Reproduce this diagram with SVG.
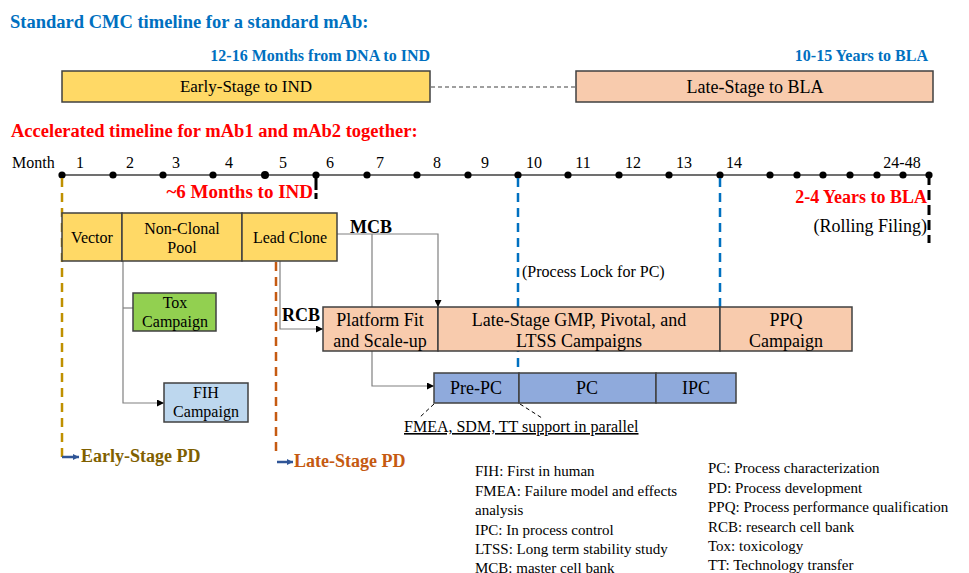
<svg xmlns="http://www.w3.org/2000/svg" width="969" height="573" viewBox="0 0 969 573" font-family="'Liberation Serif', 'DejaVu Serif', serif">
<defs>
<style>
text{font-family:'Liberation Serif','DejaVu Serif',serif;fill:#000}
.b{font-weight:bold}
.blue{fill:#0070C0}
.red{fill:#FF0000}
.box{stroke:#404040;stroke-width:1.5}
.y{fill:#FFD966}
.o{fill:#F8CBAD}
.p{fill:#8FAADC}
.c{fill:none;stroke:#808080;stroke-width:1.2}
.mid{text-anchor:middle}
.end{text-anchor:end}
.dot{fill:#000}
</style>
<marker id="ah" viewBox="0 0 10 10" refX="10" refY="5" markerWidth="7" markerHeight="7" markerUnits="userSpaceOnUse" orient="auto"><path d="M0,0L10,5L0,10z" fill="#000"/></marker>
<marker id="ba" viewBox="0 0 10 10" refX="10" refY="5" markerWidth="6" markerHeight="6" markerUnits="userSpaceOnUse" orient="auto"><path d="M0,0L10,5L0,10z" fill="#2F5597"/></marker>
</defs>
<rect width="969" height="573" fill="#fff"/>

<!-- Standard timeline -->
<text x="10" y="28" class="b blue" font-size="18.5">Standard CMC timeline for a standard mAb:</text>
<text x="430" y="61" class="b blue end" font-size="16">12-16 Months from DNA to IND</text>
<text x="928" y="61" class="b blue end" font-size="16">10-15 Years to BLA</text>
<g id="early-ind"><rect x="62" y="71" width="368" height="31" class="box y"/><text x="246" y="92" class="mid" font-size="17">Early-Stage to IND</text></g>
<g id="late-bla"><rect x="576" y="71" width="357" height="31" class="box o"/><text x="755" y="93" class="mid" font-size="18">Late-Stage to BLA</text></g>
<line x1="431" y1="87" x2="575" y2="87" stroke="#404040" stroke-width="1.2" stroke-dasharray="4,3"/>

<!-- Accelerated -->
<text x="11" y="137" class="b red" font-size="18.5">Accelerated timeline for mAb1 and mAb2 together:</text>
<g id="timeline">
<line x1="62" y1="175" x2="930" y2="175" stroke="#404040" stroke-width="1.3"/>
<g class="dot">
<circle cx="62" cy="175" r="3.6"/><circle cx="113" cy="175" r="3.6"/><circle cx="163" cy="175" r="3.6"/><circle cx="213" cy="175" r="3.6"/><circle cx="265" cy="175" r="4"/><circle cx="316" cy="175" r="3.6"/><circle cx="367" cy="175" r="3.6"/><circle cx="417" cy="175" r="3.6"/><circle cx="468" cy="175" r="3.6"/><circle cx="518" cy="175" r="3.6"/><circle cx="568" cy="175" r="3.6"/><circle cx="619" cy="175" r="3.6"/><circle cx="669" cy="175" r="3.6"/><circle cx="720" cy="175" r="3.6"/><circle cx="770" cy="175" r="3.6"/><circle cx="797" cy="175" r="3.6"/><circle cx="823" cy="175" r="3.6"/><circle cx="850" cy="175" r="3.6"/><circle cx="877" cy="175" r="3.6"/><circle cx="903" cy="175" r="3.6"/><circle cx="929" cy="175" r="3.6"/>
</g>
<text x="12" y="168" font-size="16">Month</text>
<g class="mid" font-size="16">
<text x="80" y="168">1</text><text x="130" y="168">2</text><text x="176" y="168">3</text><text x="229" y="168">4</text><text x="283" y="168">5</text><text x="330" y="168">6</text><text x="380" y="168">7</text><text x="437" y="168">8</text><text x="485" y="168">9</text><text x="534" y="168">10</text><text x="583" y="168">11</text><text x="633" y="168">12</text><text x="684" y="168">13</text><text x="734" y="168">14</text><text x="902" y="168">24-48</text>
</g>
<line x1="316" y1="175" x2="316" y2="199" stroke="#000" stroke-width="3" stroke-dasharray="15,3,6,3"/>
<line x1="929" y1="175" x2="929" y2="243" stroke="#000" stroke-width="3" stroke-dasharray="10,5"/>
</g>
<text x="313" y="198" class="b red end" font-size="19">~6 Months to IND</text>
<text x="927" y="203" class="b red end" font-size="18">2-4 Years to BLA</text>
<text x="927" y="232" class="end" font-size="18">(Rolling Filing)</text>

<!-- phase lines -->
<line x1="62" y1="178" x2="62" y2="462" stroke="#BF9000" stroke-width="2.5" stroke-dasharray="9,6"/>
<line x1="276" y1="262" x2="276" y2="452" stroke="#C55A11" stroke-width="2.5" stroke-dasharray="9,6"/>
<line x1="518" y1="178" x2="518" y2="372" stroke="#0070C0" stroke-width="2.5" stroke-dasharray="9,6"/>
<line x1="720" y1="178" x2="720" y2="310" stroke="#0070C0" stroke-width="2.5" stroke-dasharray="9,6"/>
<text x="522" y="277" font-size="16">(Process Lock for PC)</text>

<!-- connectors -->
<g id="connectors">
<path d="M123,261V403H164" class="c" marker-end="url(#ah)"/>
<path d="M123,308H133" class="c"/>
<path d="M280,261V329H323" class="c" marker-end="url(#ah)"/>
<path d="M337,234H438V307" class="c" marker-end="url(#ah)"/>
<path d="M372,234V386H434" class="c" marker-end="url(#ah)"/>
<path d="M434,404L419,418" fill="none" stroke="#000" stroke-width="1" stroke-dasharray="4,3"/>
<path d="M520,404L542,418" fill="none" stroke="#000" stroke-width="1" stroke-dasharray="4,3"/>
<path d="M62,457H79" stroke="#2F5597" stroke-width="2.5" marker-end="url(#ba)"/>
<path d="M277,462H293" stroke="#2F5597" stroke-width="2.5" marker-end="url(#ba)"/>
</g>

<!-- early-stage row -->
<g id="vector"><rect x="62" y="213" width="60" height="48" class="box y"/><text x="92" y="243" class="mid" font-size="16">Vector</text></g>
<g id="non-clonal"><rect x="122" y="213" width="120" height="48" class="box y"/><text x="182" y="234" class="mid" font-size="16">Non-Clonal</text><text x="182" y="253" class="mid" font-size="16">Pool</text></g>
<g id="lead-clone"><rect x="242" y="213" width="95" height="48" class="box y"/><text x="290" y="243" class="mid" font-size="16">Lead Clone</text></g>
<text x="350" y="233" class="b" font-size="18">MCB</text>
<text x="282" y="321" class="b" font-size="18">RCB</text>

<g id="tox"><rect x="133" y="293" width="83" height="38" class="box" fill="#92D050"/><text x="175" y="308" class="mid" font-size="16">Tox</text><text x="175" y="327" class="mid" font-size="16">Campaign</text></g>
<g id="fih"><rect x="164" y="383" width="84" height="39" class="box" fill="#BDD7EE"/><text x="206" y="398" class="mid" font-size="16">FIH</text><text x="206" y="417" class="mid" font-size="16">Campaign</text></g>

<g id="platform"><rect x="323" y="307" width="115" height="44" class="box o"/><text x="380" y="326" class="mid" font-size="18">Platform Fit</text><text x="380" y="347" class="mid" font-size="18">and Scale-up</text></g>
<g id="late-gmp"><rect x="438" y="307" width="282" height="44" class="box o"/><text x="579" y="326" class="mid" font-size="18">Late-Stage GMP, Pivotal, and</text><text x="579" y="347" class="mid" font-size="18">LTSS Campaigns</text></g>
<g id="ppq"><rect x="720" y="307" width="132" height="44" class="box o"/><text x="786" y="326" class="mid" font-size="18">PPQ</text><text x="786" y="347" class="mid" font-size="18">Campaign</text></g>

<g id="pre-pc"><rect x="434" y="373" width="85" height="30" class="box p"/><text x="476" y="394" class="mid" font-size="18">Pre-PC</text></g>
<g id="pc"><rect x="519" y="373" width="137" height="30" class="box p"/><text x="587" y="394" class="mid" font-size="18">PC</text></g>
<g id="ipc"><rect x="656" y="373" width="80" height="30" class="box p"/><text x="696" y="394" class="mid" font-size="18">IPC</text></g>

<text x="404" y="432" font-size="16" text-decoration="underline">FMEA, SDM, TT support in parallel</text>
<text x="81" y="462" class="b" font-size="18" style="fill:#7F6000">Early-Stage PD</text>
<text x="294" y="467" class="b" font-size="18" style="fill:#C55A11">Late-Stage PD</text>

<!-- legend -->
<g font-size="15">
<text x="475" y="476">FIH: First in human</text>
<text x="475" y="496">FMEA: Failure model and effects</text>
<text x="475" y="515">analysis</text>
<text x="475" y="535">IPC: In process control</text>
<text x="475" y="554">LTSS: Long term stability study</text>
<text x="475" y="573">MCB: master cell bank</text>
<text x="708" y="473">PC: Process characterization</text>
<text x="708" y="493">PD: Process development</text>
<text x="708" y="512">PPQ: Process performance qualification</text>
<text x="708" y="532">RCB: research cell bank</text>
<text x="708" y="551">Tox: toxicology</text>
<text x="708" y="570">TT: Technology transfer</text>
</g>
</svg>
